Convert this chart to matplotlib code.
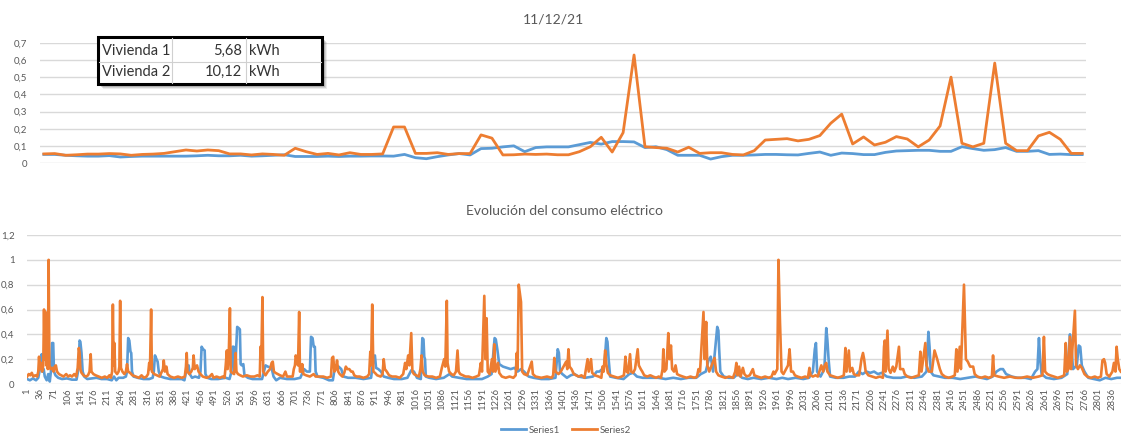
import matplotlib
matplotlib.use("Agg")
import matplotlib.pyplot as plt
from matplotlib.patches import Rectangle
from matplotlib.lines import Line2D
from matplotlib.ticker import FuncFormatter, MultipleLocator

plt.rcParams['font.family'] = ['Lato', 'DejaVu Sans']

BLUE = '#5B9BD5'
ORANGE = '#ED7D31'
GRID = '#D9D9D9'
TXT = '#595959'

# --- one day, 15-minute readings (kWh) ---
day_title = "11/12/21"
day_s1 = [0.05, 0.05, 0.045, 0.042, 0.04, 0.04, 0.043, 0.035, 0.038, 0.04, 0.04, 0.04,
          0.04, 0.04, 0.042, 0.045, 0.042, 0.042, 0.045, 0.04, 0.042, 0.045, 0.048, 0.038,
          0.038, 0.038, 0.04, 0.038, 0.04, 0.04, 0.041,
          0.041, 0.04, 0.05, 0.031, 0.025, 0.037, 0.047, 0.055, 0.047, 0.084, 0.086, 0.094,
          0.1, 0.066, 0.09, 0.094, 0.094, 0.094, 0.107, 0.12, 0.11, 0.125, 0.125, 0.123,
          0.09, 0.095, 0.078, 0.045, 0.045, 0.045, 0.023, 0.037, 0.045,
          0.045, 0.047, 0.05, 0.05, 0.048, 0.047, 0.056, 0.064, 0.045, 0.058, 0.055, 0.049,
          0.049, 0.062, 0.07, 0.072, 0.074, 0.074, 0.068, 0.068, 0.095, 0.084, 0.074, 0.078,
          0.09, 0.068, 0.068, 0.072, 0.05, 0.052, 0.049, 0.049]
day_s2 = [0.053, 0.055, 0.045, 0.048, 0.052, 0.052, 0.055, 0.053, 0.045, 0.05, 0.052, 0.056,
          0.066, 0.076, 0.07, 0.076, 0.072, 0.053, 0.053, 0.047, 0.053, 0.05, 0.045, 0.086,
          0.066, 0.05, 0.056, 0.047, 0.06, 0.05, 0.05,
          0.053, 0.21, 0.21, 0.056, 0.056, 0.06, 0.05, 0.055, 0.055, 0.164, 0.145, 0.047,
          0.048, 0.052, 0.05, 0.052, 0.048, 0.048, 0.066, 0.095, 0.15, 0.064, 0.177, 0.63,
          0.095, 0.09, 0.086, 0.064, 0.092, 0.056, 0.06, 0.06, 0.05,
          0.047, 0.072, 0.134, 0.138, 0.142, 0.129, 0.138, 0.16, 0.232, 0.285, 0.111, 0.152,
          0.105, 0.121, 0.154, 0.14, 0.094, 0.134, 0.216, 0.501, 0.115, 0.094, 0.115, 0.583,
          0.115, 0.072, 0.072, 0.158, 0.179, 0.138, 0.056, 0.056]

table_names = ["Vivienda 1", "Vivienda 2"]
table_values = ["5,68", "10,12"]
table_unit = "kWh"

# --- whole period: (reading number, kWh) ---
month_title = "Evolución del consumo eléctrico"
n_readings = 2860
series_names = ["Series1", "Series2"]

month_s1 = [
    (1, 0.04), (8, 0.03), (16, 0.045), (24, 0.03), (30, 0.05), (33, 0.1), (36, 0.18), (39, 0.24),
    (41, 0.1), (44, 0.12), (47, 0.06), (52, 0.03), (56, 0.08), (60, 0.02), (63, 0.1), (66, 0.33),
    (69, 0.33), (71, 0.1), (75, 0.07), (82, 0.05), (92, 0.04), (105, 0.045), (118, 0.035),
    (130, 0.035), (135, 0.12), (138, 0.35), (140, 0.34), (143, 0.25), (146, 0.1), (150, 0.06),
    (158, 0.04), (170, 0.045), (182, 0.05), (195, 0.04), (210, 0.04), (222, 0.03), (228, 0.06),
    (234, 0.03), (240, 0.05), (252, 0.05), (259, 0.06), (262, 0.1), (265, 0.37), (268, 0.35),
    (271, 0.26), (273, 0.25), (275, 0.1), (279, 0.06), (290, 0.05), (305, 0.04), (320, 0.04),
    (329, 0.05), (332, 0.1), (335, 0.23), (339, 0.2), (342, 0.18), (345, 0.1), (350, 0.06),
    (360, 0.05), (375, 0.04), (390, 0.04), (405, 0.04), (412, 0.03), (419, 0.14), (423, 0.15),
    (426, 0.08), (432, 0.05), (440, 0.06), (450, 0.05), (454, 0.1), (457, 0.3), (461, 0.28),
    (465, 0.27), (467, 0.08), (472, 0.05), (482, 0.04), (500, 0.04), (520, 0.05), (530, 0.04),
    (535, 0.1), (538, 0.3), (541, 0.3), (543, 0.1), (546, 0.2), (550, 0.46), (554, 0.45),
    (557, 0.44), (559, 0.16), (562, 0.15), (566, 0.16), (569, 0.07), (578, 0.05), (590, 0.04),
    (605, 0.04), (615, 0.04), (620, 0.1), (624, 0.15), (630, 0.14), (640, 0.13), (645, 0.06),
    (652, 0.03), (662, 0.05), (680, 0.04), (700, 0.04), (715, 0.05), (725, 0.12), (732, 0.1),
    (740, 0.1), (743, 0.38), (747, 0.37), (750, 0.3), (753, 0.3), (755, 0.1), (760, 0.06),
    (775, 0.05), (790, 0.03), (800, 0.03), (806, 0.15), (815, 0.14), (822, 0.12), (828, 0.06),
    (840, 0.05), (860, 0.05), (880, 0.04), (900, 0.05), (907, 0.22), (910, 0.23), (913, 0.13),
    (919, 0.12), (926, 0.1), (933, 0.06), (945, 0.05), (960, 0.04), (980, 0.04), (995, 0.05),
    (1005, 0.11), (1012, 0.1), (1020, 0.05), (1030, 0.04), (1034, 0.37), (1037, 0.36),
    (1039, 0.22), (1041, 0.2), (1043, 0.06), (1052, 0.05), (1070, 0.04), (1090, 0.05),
    (1105, 0.08), (1112, 0.06), (1130, 0.05), (1150, 0.04), (1170, 0.04), (1190, 0.04),
    (1205, 0.06), (1215, 0.08), (1223, 0.37), (1226, 0.36), (1230, 0.28), (1235, 0.16),
    (1245, 0.14), (1255, 0.13), (1265, 0.12), (1275, 0.13), (1283, 0.1), (1292, 0.12),
    (1300, 0.1), (1312, 0.06), (1325, 0.05), (1345, 0.04), (1365, 0.04), (1382, 0.05),
    (1388, 0.28), (1391, 0.25), (1394, 0.1), (1400, 0.08), (1412, 0.05), (1422, 0.07),
    (1432, 0.08), (1442, 0.06), (1460, 0.05), (1480, 0.06), (1490, 0.1), (1497, 0.1),
    (1504, 0.12), (1510, 0.15), (1515, 0.37), (1518, 0.34), (1521, 0.2), (1525, 0.06),
    (1540, 0.05), (1560, 0.04), (1575, 0.08), (1585, 0.09), (1595, 0.06), (1610, 0.05),
    (1630, 0.05), (1650, 0.05), (1670, 0.04), (1690, 0.05), (1710, 0.04), (1730, 0.05),
    (1750, 0.05), (1762, 0.08), (1775, 0.1), (1782, 0.19), (1788, 0.22), (1794, 0.1),
    (1805, 0.46), (1808, 0.43), (1810, 0.28), (1813, 0.1), (1822, 0.06), (1835, 0.05),
    (1848, 0.05), (1858, 0.08), (1870, 0.05), (1885, 0.04), (1900, 0.05), (1920, 0.04),
    (1940, 0.05), (1960, 0.04), (1975, 0.05), (1990, 0.04), (2010, 0.05), (2030, 0.04),
    (2045, 0.05), (2055, 0.1), (2060, 0.28), (2063, 0.33), (2066, 0.1), (2075, 0.06),
    (2085, 0.12), (2090, 0.45), (2093, 0.35), (2096, 0.2), (2100, 0.06), (2115, 0.05),
    (2135, 0.05), (2150, 0.06), (2165, 0.06), (2175, 0.1), (2185, 0.08), (2195, 0.1),
    (2205, 0.09), (2215, 0.1), (2225, 0.08), (2235, 0.09), (2248, 0.06), (2265, 0.05),
    (2285, 0.05), (2300, 0.06), (2320, 0.05), (2340, 0.06), (2352, 0.1), (2357, 0.42),
    (2360, 0.3), (2363, 0.1), (2370, 0.07), (2385, 0.06), (2400, 0.05), (2420, 0.05),
    (2440, 0.04), (2460, 0.05), (2480, 0.06), (2495, 0.05), (2510, 0.04), (2525, 0.06),
    (2535, 0.1), (2545, 0.12), (2552, 0.12), (2560, 0.08), (2575, 0.06), (2590, 0.05),
    (2610, 0.05), (2625, 0.04), (2636, 0.1), (2642, 0.12), (2646, 0.37), (2649, 0.2),
    (2653, 0.08), (2665, 0.05), (2685, 0.04), (2705, 0.05), (2720, 0.08), (2727, 0.4),
    (2731, 0.3), (2735, 0.12), (2745, 0.15), (2750, 0.31), (2754, 0.3), (2758, 0.15),
    (2765, 0.1), (2775, 0.05), (2790, 0.04), (2805, 0.03), (2820, 0.05), (2835, 0.04),
    (2850, 0.05), (2860, 0.05),
]

month_s2 = [
    (1, 0.06), (5, 0.08), (9, 0.07), (13, 0.09), (17, 0.06), (22, 0.07), (27, 0.06), (30, 0.1),
    (32, 0.22), (34, 0.12), (37, 0.17), (40, 0.1), (43, 0.15), (45, 0.6), (47, 0.2), (49, 0.58),
    (51, 0.15), (53, 0.35), (55, 0.12), (57, 1.0), (59, 0.15), (62, 0.12), (66, 0.13), (70, 0.1),
    (73, 0.14), (76, 0.15), (79, 0.1), (84, 0.08), (90, 0.07), (96, 0.06), (103, 0.08),
    (108, 0.06), (113, 0.07), (118, 0.06), (124, 0.08), (129, 0.06), (133, 0.13), (136, 0.29),
    (138, 0.25), (140, 0.12), (143, 0.09), (148, 0.07), (155, 0.06), (160, 0.07), (164, 0.1),
    (167, 0.24), (169, 0.1), (174, 0.08), (180, 0.07), (188, 0.06), (196, 0.05), (204, 0.06),
    (210, 0.05), (216, 0.07), (220, 0.05), (223, 0.1), (225, 0.64), (227, 0.15), (229, 0.33),
    (231, 0.1), (236, 0.08), (240, 0.1), (242, 0.14), (244, 0.67), (246, 0.13), (250, 0.1),
    (255, 0.08), (259, 0.1), (262, 0.16), (265, 0.1), (270, 0.09), (276, 0.07), (285, 0.06),
    (293, 0.05), (300, 0.07), (306, 0.05), (313, 0.06), (317, 0.08), (320, 0.17), (322, 0.12),
    (325, 0.6), (327, 0.1), (333, 0.08), (340, 0.07), (347, 0.06), (353, 0.1), (356, 0.12),
    (358, 0.19), (361, 0.1), (365, 0.14), (368, 0.08), (375, 0.06), (385, 0.05), (395, 0.06),
    (405, 0.05), (413, 0.06), (416, 0.14), (418, 0.25), (420, 0.1), (425, 0.08), (430, 0.1),
    (434, 0.13), (436, 0.23), (439, 0.12), (445, 0.15), (449, 0.1), (454, 0.08), (460, 0.06),
    (470, 0.05), (478, 0.06), (484, 0.08), (488, 0.05), (496, 0.06), (505, 0.05), (512, 0.06),
    (517, 0.05), (520, 0.15), (523, 0.27), (525, 0.12), (528, 0.24), (531, 0.61), (533, 0.1),
    (537, 0.09), (542, 0.08), (546, 0.25), (548, 0.1), (552, 0.08), (558, 0.07), (565, 0.06),
    (575, 0.07), (585, 0.06), (595, 0.06), (603, 0.07), (609, 0.06), (611, 0.3), (613, 0.2),
    (616, 0.7), (618, 0.1), (624, 0.07), (630, 0.1), (636, 0.12), (640, 0.17), (643, 0.18),
    (646, 0.1), (650, 0.09), (656, 0.08), (662, 0.07), (670, 0.06), (676, 0.1), (680, 0.06),
    (688, 0.06), (695, 0.06), (698, 0.12), (701, 0.15), (703, 0.23), (706, 0.2), (709, 0.15),
    (712, 0.58), (714, 0.1), (718, 0.1), (720, 0.16), (723, 0.08), (730, 0.07), (740, 0.06),
    (750, 0.08), (755, 0.06), (765, 0.06), (775, 0.06), (785, 0.05), (795, 0.06), (798, 0.21),
    (801, 0.22), (804, 0.1), (808, 0.12), (811, 0.19), (814, 0.1), (818, 0.08), (825, 0.06),
    (830, 0.09), (834, 0.14), (838, 0.12), (843, 0.12), (848, 0.1), (852, 0.1), (856, 0.07),
    (862, 0.06), (870, 0.06), (880, 0.05), (890, 0.06), (895, 0.08), (898, 0.26), (900, 0.15),
    (903, 0.64), (906, 0.1), (910, 0.09), (916, 0.07), (925, 0.06), (930, 0.08), (933, 0.2),
    (936, 0.12), (941, 0.1), (947, 0.07), (955, 0.06), (965, 0.06), (975, 0.05), (984, 0.08),
    (989, 0.17), (992, 0.12), (997, 0.23), (1000, 0.15), (1003, 0.3), (1005, 0.41), (1008, 0.1),
    (1012, 0.08), (1018, 0.07), (1025, 0.06), (1029, 0.12), (1032, 0.23), (1035, 0.1),
    (1040, 0.07), (1050, 0.06), (1060, 0.06), (1070, 0.05), (1080, 0.06), (1085, 0.13),
    (1091, 0.2), (1094, 0.14), (1098, 0.67), (1100, 0.17), (1104, 0.1), (1110, 0.08),
    (1116, 0.07), (1122, 0.1), (1126, 0.27), (1129, 0.1), (1133, 0.08), (1140, 0.07),
    (1147, 0.06), (1155, 0.06), (1165, 0.05), (1175, 0.06), (1182, 0.07), (1187, 0.17),
    (1190, 0.1), (1196, 0.71), (1199, 0.2), (1202, 0.53), (1205, 0.1), (1210, 0.08),
    (1216, 0.2), (1219, 0.1), (1222, 0.32), (1225, 0.1), (1232, 0.17), (1235, 0.09),
    (1242, 0.06), (1252, 0.05), (1262, 0.06), (1272, 0.05), (1278, 0.07), (1281, 0.25),
    (1283, 0.12), (1286, 0.8), (1292, 0.66), (1295, 0.1), (1300, 0.08), (1308, 0.07),
    (1320, 0.18), (1323, 0.08), (1330, 0.06), (1345, 0.05), (1360, 0.06), (1372, 0.05),
    (1376, 0.07), (1379, 0.21), (1382, 0.1), (1390, 0.08), (1396, 0.1), (1410, 0.18),
    (1413, 0.12), (1416, 0.28), (1419, 0.14), (1424, 0.12), (1430, 0.08), (1436, 0.07),
    (1443, 0.06), (1450, 0.07), (1458, 0.05), (1466, 0.2), (1469, 0.1), (1475, 0.2),
    (1478, 0.09), (1485, 0.07), (1495, 0.06), (1502, 0.05), (1505, 0.14), (1508, 0.1),
    (1512, 0.27), (1515, 0.16), (1519, 0.09), (1525, 0.07), (1535, 0.06), (1545, 0.05),
    (1555, 0.06), (1561, 0.07), (1565, 0.22), (1568, 0.1), (1572, 0.09), (1577, 0.24),
    (1580, 0.1), (1585, 0.09), (1590, 0.12), (1597, 0.28), (1600, 0.15), (1605, 0.12),
    (1609, 0.1), (1614, 0.07), (1622, 0.06), (1630, 0.07), (1637, 0.06), (1645, 0.05),
    (1652, 0.06), (1658, 0.05), (1662, 0.12), (1664, 0.28), (1667, 0.1), (1672, 0.12),
    (1677, 0.41), (1680, 0.2), (1684, 0.31), (1687, 0.12), (1692, 0.1), (1696, 0.15),
    (1700, 0.08), (1706, 0.07), (1715, 0.06), (1725, 0.05), (1735, 0.06), (1745, 0.05),
    (1752, 0.06), (1756, 0.12), (1760, 0.1), (1769, 0.58), (1772, 0.2), (1776, 0.5),
    (1779, 0.15), (1784, 0.1), (1793, 0.17), (1798, 0.21), (1802, 0.1), (1808, 0.07),
    (1816, 0.06), (1826, 0.05), (1836, 0.06), (1846, 0.05), (1852, 0.1), (1855, 0.17),
    (1858, 0.07), (1862, 0.14), (1866, 0.06), (1872, 0.13), (1876, 0.08), (1882, 0.06),
    (1890, 0.07), (1898, 0.12), (1902, 0.07), (1910, 0.06), (1920, 0.05), (1930, 0.06),
    (1940, 0.05), (1947, 0.06), (1952, 0.1), (1955, 0.08), (1962, 0.12), (1965, 1.0),
    (1969, 0.5), (1973, 0.1), (1978, 0.08), (1985, 0.12), (1990, 0.15), (1994, 0.28),
    (1998, 0.1), (2003, 0.1), (2008, 0.07), (2015, 0.06), (2025, 0.05), (2035, 0.06),
    (2042, 0.05), (2046, 0.13), (2049, 0.07), (2055, 0.06), (2062, 0.07), (2068, 0.06),
    (2072, 0.1), (2077, 0.15), (2082, 0.1), (2086, 0.15), (2090, 0.17), (2093, 0.1),
    (2100, 0.07), (2110, 0.06), (2120, 0.05), (2130, 0.06), (2136, 0.07), (2140, 0.29),
    (2143, 0.1), (2149, 0.27), (2152, 0.1), (2158, 0.13), (2162, 0.08), (2168, 0.07),
    (2176, 0.07), (2182, 0.2), (2186, 0.25), (2189, 0.2), (2193, 0.1), (2200, 0.07),
    (2210, 0.06), (2220, 0.05), (2230, 0.06), (2238, 0.05), (2241, 0.3), (2243, 0.35),
    (2245, 0.1), (2250, 0.43), (2253, 0.12), (2258, 0.09), (2264, 0.14), (2268, 0.1),
    (2273, 0.14), (2280, 0.3), (2283, 0.12), (2291, 0.12), (2295, 0.08), (2302, 0.06),
    (2312, 0.05), (2322, 0.06), (2332, 0.07), (2336, 0.26), (2339, 0.1), (2349, 0.33),
    (2352, 0.15), (2358, 0.1), (2366, 0.1), (2373, 0.27), (2380, 0.2), (2387, 0.12),
    (2392, 0.08), (2400, 0.06), (2410, 0.05), (2420, 0.06), (2426, 0.07), (2430, 0.28),
    (2433, 0.1), (2439, 0.3), (2442, 0.12), (2450, 0.8), (2455, 0.2), (2460, 0.18),
    (2466, 0.14), (2474, 0.14), (2478, 0.08), (2485, 0.06), (2495, 0.05), (2505, 0.06),
    (2515, 0.05), (2523, 0.06), (2526, 0.23), (2529, 0.07), (2540, 0.06), (2555, 0.05),
    (2570, 0.06), (2585, 0.05), (2600, 0.05), (2615, 0.06), (2630, 0.05), (2645, 0.06),
    (2655, 0.07), (2659, 0.38), (2662, 0.1), (2668, 0.08), (2675, 0.07), (2685, 0.06),
    (2695, 0.05), (2705, 0.06), (2712, 0.07), (2716, 0.33), (2719, 0.1), (2723, 0.12),
    (2727, 0.38), (2730, 0.12), (2740, 0.59), (2743, 0.15), (2748, 0.12), (2753, 0.15),
    (2758, 0.13), (2765, 0.08), (2772, 0.06), (2782, 0.05), (2792, 0.06), (2800, 0.05),
    (2808, 0.06), (2812, 0.19), (2816, 0.2), (2819, 0.17), (2823, 0.08), (2830, 0.06),
    (2838, 0.1), (2842, 0.17), (2846, 0.1), (2849, 0.3), (2852, 0.2), (2856, 0.12), (2860, 0.1),
]

W, H = 1126, 436
fig = plt.figure(figsize=(W / 100, H / 100), dpi=100)


def px_axes(left, top, right, bottom):
    return fig.add_axes([left / W, 1 - bottom / H, (right - left) / W, (bottom - top) / H])


# spanish-style decimals: 0,2 ... 1 ... 1,2
comma = FuncFormatter(lambda v, _: f"{round(v, 2):g}".replace('.', ','))


def style(ax):
    for s in ax.spines.values():
        s.set_visible(False)
    ax.grid(axis='y', color=GRID, lw=1.0)
    ax.set_axisbelow(True)
    ax.tick_params(axis='y', length=0, labelsize=7, labelcolor=TXT, pad=9)
    ax.yaxis.set_major_formatter(comma)


# top panel: single day
ax1 = px_axes(40, 43, 1086, 163)
style(ax1)
ax1.plot(range(len(day_s1)), day_s1, color=BLUE, lw=2.0, solid_joinstyle='round')
ax1.plot(range(len(day_s2)), day_s2, color=ORANGE, lw=2.0, solid_joinstyle='round')
ax1.set_xlim(-0.35, len(day_s1) - 0.65)
ax1.set_ylim(0, 0.7)
ax1.yaxis.set_major_locator(MultipleLocator(0.1))
ax1.set_xticks([])
fig.text(553 / W, 1 - 19 / H, day_title, ha='center', va='center', fontsize=10, color=TXT)

# bottom panel: whole period
ax2 = px_axes(27, 235, 1121, 384)
style(ax2)
for pts, col in ((month_s1, BLUE), (month_s2, ORANGE)):
    xs, ys = zip(*pts)
    ax2.plot(xs, ys, color=col, lw=1.9, solid_joinstyle='round')
ax2.set_xlim(0.5, n_readings + 0.5)
ax2.set_ylim(0, 1.2)
ax2.yaxis.set_major_locator(MultipleLocator(0.2))
ticks = list(range(1, n_readings, 35))
ax2.set_xticks(ticks)
ax2.set_xticklabels([str(t) for t in ticks], rotation=90, fontsize=6.8, color=TXT)
ax2.tick_params(axis='x', length=0, pad=3)
fig.text(565 / W, 1 - 211 / H, month_title, ha='center', va='center', fontsize=10, color=TXT)

handles = [Line2D([], [], color=BLUE, lw=2), Line2D([], [], color=ORANGE, lw=2)]
fig.legend(handles, series_names, loc='center', bbox_to_anchor=(566 / W, 1 - 430 / H),
           ncol=2, frameon=False, fontsize=7, labelcolor=TXT, handlelength=2.6,
           columnspacing=1.2, handletextpad=0.3)

# summary box with daily totals
ov = fig.add_axes([0, 0, 1, 1], zorder=10)
ov.set_xlim(0, W)
ov.set_ylim(H, 0)
ov.axis('off')
bx, by, bw, bh = 98, 37, 224, 47
# soft drop shadow
for off, a in ((5, 0.12), (4, 0.18), (3, 0.25), (2, 0.3)):
    ov.add_patch(Rectangle((bx + off, by + off), bw, bh, fc='#606060', ec='none', alpha=a))
ov.add_patch(Rectangle((bx, by), bw, bh, fc='white', ec='black', lw=2.2))
ov.plot([bx + 1, bx + bw - 1], [62, 62], color='#D0D0D0', lw=0.8)
ov.plot([172, 172], [by + 1, by + bh - 1], color='#D0D0D0', lw=0.8)
ov.plot([246, 246], [by + 1, by + bh - 1], color='#D0D0D0', lw=0.8)
for k, (name, val) in enumerate(zip(table_names, table_values)):
    yc = 51 + 21 * k
    ov.text(102, yc, name, ha='left', va='center', fontsize=10.5, color='#333333')
    ov.text(242, yc, val, ha='right', va='center', fontsize=10.5, color='#333333')
    ov.text(249, yc, table_unit, ha='left', va='center', fontsize=10.5, color='#333333')

fig.savefig("out.png", dpi=100)
